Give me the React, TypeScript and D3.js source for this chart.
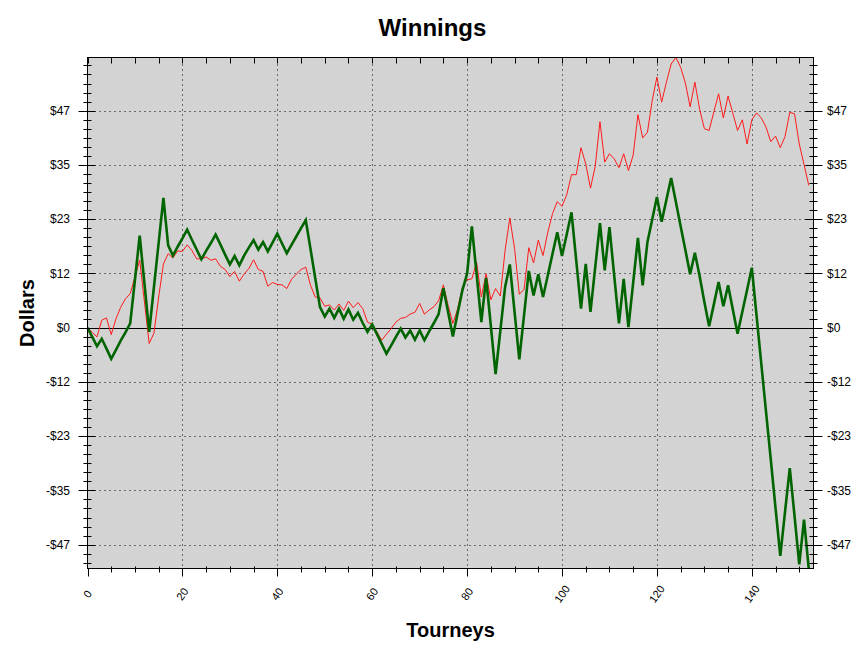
import React from 'react';
import * as d3 from 'd3';

// Cumulative winnings per tourney
const redSeries = [
  0, -1.0, -2.0, 1.6, 2.1, -1.5, 1.9, 4.4, 6.2, 7.3,
  10.9, 14.5, 5.5, -3.4, -1.2, 6.6, 13.7, 15.9, 15.0, 16.5,
  16.4, 17.8, 16.6, 14.8, 14.8, 15.2, 14.5, 14.8, 13.2, 12.5,
  11.0, 12.1, 10.0, 11.5, 12.7, 14.6, 12.5, 12.1, 8.9, 9.7,
  9.3, 9.2, 8.4, 10.4, 11.5, 12.5, 13.0, 9.1, 6.6, 6.4,
  4.6, 4.9, 3.8, 5.1, 3.7, 5.7, 4.3, 5.4, 4.1, 1.2,
  0.7, -0.9, -2.7, -1.4, -0.2, 1.2, 2.0, 2.2, 2.9, 3.3,
  5.2, 2.9, 3.8, 4.5, 5.8, 9.2, 4.8, 0.9, 4.0, 8.7,
  10.3, 10.5, 14.1, 6.6, 11.6, 6.0, 8.4, 6.8, 16.6, 23.6,
  17.0, 7.2, 8.2, 17.2, 13.9, 18.8, 15.5, 20.5, 24.5, 27.1,
  26.1, 28.6, 32.9, 32.9, 38.7, 35.2, 30.0, 34.7, 44.3, 35.6,
  37.4, 36.3, 34.4, 37.4, 33.8, 37.1, 45.8, 40.8, 42.0, 48.8,
  53.9, 48.5, 52.8, 56.7, 58.1, 56.0, 52.6, 47.5, 52.8, 47.0,
  42.8, 42.4, 46.4, 50.3, 45.1, 49.8, 46.1, 42.4, 44.7, 39.5,
  44.7, 46.2, 45.1, 43.1, 40.0, 41.2, 38.7, 41.1, 46.3, 46.0,
  39.5, 35.1, 30.6,
];

const greenSeries = [
  0, -2.0, -4.0, -2.4, -4.5, -6.7, -4.8, -2.8, -1.0, 0.9,
  10.3, 19.8, 9.5, -0.9, 8.7, 18.3, 27.9, 17.7, 15.5, 17.4,
  19.2, 21.1, 18.9, 16.8, 14.7, 16.5, 18.2, 20.0, 17.9, 15.7,
  13.6, 15.4, 13.4, 15.5, 17.2, 18.8, 16.8, 18.4, 16.4, 18.3,
  20.2, 18.1, 16.0, 17.8, 19.6, 21.4, 23.1, 16.9, 10.6, 4.4,
  2.4, 4.1, 2.1, 4.1, 1.9, 3.9, 1.7, 3.2, 1.0, -0.9,
  0.7, -1.4, -3.5, -5.6, -3.8, -2.0, -0.2, -2.1, -0.6, -2.6,
  -0.6, -2.7, -0.8, 1.0, 2.9, 8.5, 3.3, -1.9, 3.1, 8.0,
  11.6, 21.8, 11.5, 1.2, 10.7, 0.4, -10.0, -0.7, 8.7, 13.6,
  3.4, -6.8, 2.7, 12.2, 6.9, 11.5, 6.6, 11.2, 15.9, 20.5,
  15.4, 20.1, 24.8, 14.4, 4.1, 13.7, 3.4, 13.0, 22.5, 12.3,
  21.6, 11.2, 0.9, 10.5, 0.1, 9.7, 19.3, 9.1, 18.4, 23.2,
  28.1, 22.8, 27.5, 32.2, 27.0, 21.8, 16.7, 11.5, 16.1, 11.1,
  5.5, 0.3, 5.0, 9.8, 4.6, 9.1, 3.9, -1.3, 3.4, 8.1,
  12.9, 2.6, -7.8, -18.1, -28.4, -38.8, -49.1, -39.6, -30.2, -40.5,
  -50.9, -41.3, -51.8,
];

const tourneys = redSeries.map((_, i) => i);

const xTickValues = [0, 20, 40, 60, 80, 100, 120, 140];
const xTickLabels = ['0', '20', '40', '60', '80', '100', '120', '140'];
const xMinorStep = 5;
const xMax = 153;

const yTickValues = [-140 / 3, -35, -70 / 3, -35 / 3, 0, 35 / 3, 70 / 3, 35, 140 / 3];
const yTickLabels = ['-$47', '-$35', '-$23', '-$12', '$0', '$12', '$23', '$35', '$47'];
const yMinorStep = 35 / 18;

const W = 865;
const H = 654;
const L = 87.5;
const R = 813.5;
const T = 57.5;
const B = 568.5;
const FONT = '"Liberation Sans", Arial, Helvetica, sans-serif';

export default function App() {
  const x = d3.scaleLinear().domain([0, xMax]).range([L, R]);
  const all = [...redSeries, ...greenSeries];
  const y = d3.scaleLinear().domain([d3.min(all) as number, d3.max(all) as number]).range([B, T]);

  const line = d3
    .line<number>()
    .x((_, i) => x(tourneys[i]))
    .y((d) => y(d));

  const [yMin, yMax] = y.domain();
  const yMinor: number[] = [];
  for (let k = Math.ceil(yMin / yMinorStep); k * yMinorStep <= yMax; k++) yMinor.push(k);
  const xMinor: number[] = [];
  for (let v = 0; v <= xMax; v += xMinorStep) xMinor.push(v);

  return (
    <svg
      width={W}
      height={H}
      style={{ position: 'absolute', left: 0, top: 0, background: '#fff' }}
      fontFamily={FONT}
    >
      <rect x={0} y={0} width={W} height={H} fill="#fff" />
      <defs>
        <clipPath id="plotClip">
          <rect x={L} y={T - 1} width={R - L} height={B - T + 2} />
        </clipPath>
      </defs>
      <rect x={L} y={T} width={R - L} height={B - T} fill="#d3d3d3" />

      {/* grid */}
      {xTickValues
        .filter((v) => v > 0)
        .map((v) => (
          <line
            key={'gx' + v}
            x1={Math.round(x(v)) + 0.5}
            x2={Math.round(x(v)) + 0.5}
            y1={T + 2}
            y2={B}
            stroke="#000"
            strokeWidth={1}
            strokeDasharray="1,4"
          />
        ))}
      {yTickValues
        .filter((v) => v !== 0)
        .map((v) => (
          <line
            key={'gy' + v}
            x1={L + 2}
            x2={R}
            y1={Math.round(y(v)) + 0.5}
            y2={Math.round(y(v)) + 0.5}
            stroke="#000"
            strokeWidth={1}
            strokeDasharray="1,4"
          />
        ))}
      <line x1={L} x2={R} y1={Math.round(y(0)) + 0.5} y2={Math.round(y(0)) + 0.5} stroke="#000" strokeWidth={1} />

      {/* series */}
      <g clipPath="url(#plotClip)">
        <path d={line(redSeries) || ''} fill="none" stroke="#ff1a1a" strokeWidth={1} strokeLinejoin="miter" />
        <path d={line(greenSeries) || ''} fill="none" stroke="#006400" strokeWidth={2.6} strokeLinejoin="miter" />
      </g>

      {/* frame */}
      <rect x={L} y={T} width={R - L} height={B - T} fill="none" stroke="#000" strokeWidth={1} />

      {/* y ticks left & right */}
      {yMinor.map((k) => {
        const yy = Math.round(y(k * yMinorStep)) + 0.5;
        const major = k % 6 === 0;
        const o = major ? 9 : 4;
        const inn = major ? 8 : 4;
        return (
          <g key={'yt' + k}>
            <line x1={L - o} x2={L + inn} y1={yy} y2={yy} stroke="#000" strokeWidth={1} />
            <line x1={R - inn} x2={R + o} y1={yy} y2={yy} stroke="#000" strokeWidth={1} />
          </g>
        );
      })}
      {yTickValues.map((v, i) => (
        <g key={'yl' + i} fontSize={12} fill="#000">
          <text x={70} y={y(v)} dy="0.35em" textAnchor="end">
            {yTickLabels[i]}
          </text>
          <text x={827} y={y(v)} dy="0.35em" textAnchor="start">
            {yTickLabels[i]}
          </text>
        </g>
      ))}

      {/* x ticks bottom & top */}
      {xMinor.map((v) => {
        const xx = Math.round(x(v)) + 0.5;
        const major = v % 20 === 0;
        return (
          <g key={'xt' + v}>
            <line x1={xx} x2={xx} y1={major ? B : B - 2} y2={major ? B + 8 : B + 4} stroke="#000" strokeWidth={1} />
            <line x1={xx} x2={xx} y1={T} y2={T + 6} stroke="#000" strokeWidth={1} />
          </g>
        );
      })}
      {xTickValues.map((v, i) => (
        <text
          key={'xl' + v}
          transform={`translate(${x(v)},594) rotate(-55)`}
          textAnchor="middle"
          dy="0.35em"
          fontSize={11}
          fill="#000"
        >
          {xTickLabels[i]}
        </text>
      ))}

      {/* titles */}
      <text x={432.5} y={36} textAnchor="middle" fontSize={24} fontWeight="bold" fill="#000">
        Winnings
      </text>
      <text x={(L + R) / 2} y={637} textAnchor="middle" fontSize={20} fontWeight="bold" fill="#000">
        Tourneys
      </text>
      <text
        transform={`translate(33.5,${(T + B) / 2}) rotate(-90)`}
        textAnchor="middle"
        fontSize={20}
        fontWeight="bold"
        fill="#000"
      >
        Dollars
      </text>
    </svg>
  );
}
